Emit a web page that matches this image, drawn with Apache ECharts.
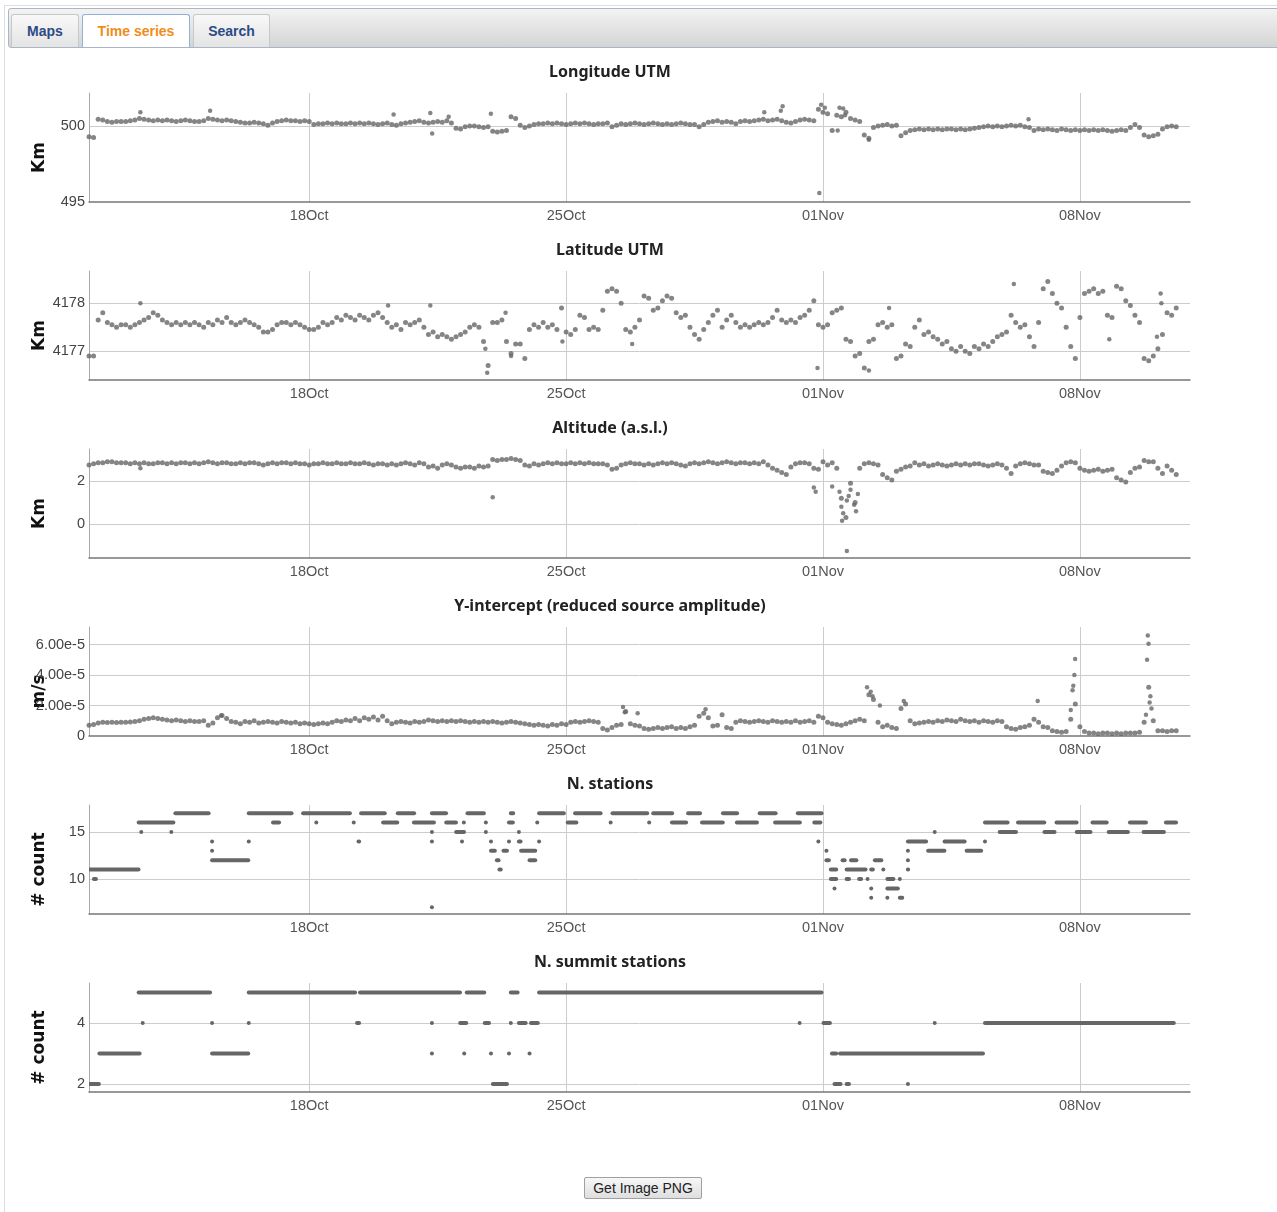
<!DOCTYPE html>
<html>
<head>
<meta charset="utf-8">
<title>Time series</title>
<script src="https://cdn.jsdelivr.net/npm/echarts@6/dist/echarts.min.js"></script>
<style>
  body { margin: 0; background: #fff; font-family: "Liberation Sans", Arial, sans-serif; }
  .frame { position: absolute; left: 4px; top: 5px; width: 1290px; height: 1230px; border-left: 1px solid #ddd; border-top: 1px solid #ddd; }
  .tabbar { position: absolute; left: 8px; top: 8px; width: 1280px; height: 38px; border: 1px solid #aab6c6; border-radius: 3px;
            background: linear-gradient(#f3f3f3, #d4d4d4); }
  .tab { position: absolute; top: 5px; height: 32px; line-height: 32px; text-align: center; font-weight: bold; font-size: 14px;
         color: #2b4a86; border: 1px solid #c8c8c8; border-bottom: none; border-radius: 3px 3px 0 0;
         background: linear-gradient(#f8f8f8, #e4e4e4); }
  .tab.active { background: #fff; color: #f08c1a; border: 1px solid #8fb2dc; border-bottom: none; }
  #chart { position: absolute; left: 0; top: 50px; width: 1277px; height: 1110px; }
  .btn { position: absolute; left: 584px; top: 1177px; width: 118px; height: 22px; box-sizing: border-box; border: 1px solid #a0a0a0;
         border-radius: 2px; background: linear-gradient(#f7f7f7, #dedede); font-size: 14px; color: #222; text-align: center; line-height: 20px; }
</style>
</head>
<body>
<div class="frame"></div>
<div class="tabbar">
  <div class="tab" style="left:2px;width:66px;">Maps</div>
  <div class="tab active" style="left:73px;width:106px;">Time series</div>
  <div class="tab" style="left:184px;width:75px;">Search</div>
</div>
<div id="chart"></div>
<div class="btn">Get Image PNG</div>
<script>
// time: samples every 3 h starting 12 Oct 00:00; x axis in days counted from 4 Oct
const axisOrigin = 8
const sampleHours = 3
const xTickDays = [14, 21, 28, 35]
const xTickText = ['18Oct', '25Oct', '01Nov', '08Nov']

const titles = ['Longitude UTM', 'Latitude UTM', 'Altitude (a.s.l.)', 'Y-intercept (reduced source amplitude)', 'N. stations', 'N. summit stations']
const units = ['Km', 'Km', 'Km', 'm/s', '# count', '# count']

// Longitude UTM (Km), one row per day
const lonVals = [
  499.3, 499.25, 500.45, 500.4, 500.3, 500.25, 500.3, 500.3,
  500.3, 500.35, 500.4, 500.5, 500.45, 500.4, 500.35, 500.4,
  500.35, 500.4, 500.35, 500.3, 500.35, 500.4, 500.35, 500.3,
  500.3, 500.35, 500.5, 500.45, 500.4, 500.35, 500.4, 500.35,
  500.3, 500.25, 500.2, 500.2, 500.25, 500.2, 500.15, 500.05,
  500.2, 500.3, 500.35, 500.4, 500.35, 500.35, 500.3, 500.35,
  500.3, 500.1, 500.15, 500.15, 500.2, 500.15, 500.2, 500.15,
  500.15, 500.2, 500.15, 500.2, 500.15, 500.2, 500.15, 500.1,
  500.15, 500.2, 500.1, 500.05, 500.15, 500.2, 500.25, 500.3,
  500.35, 500.25, 500.2, 500.25, 500.3, 500.25, 500.35, 500.2,
  499.85, 499.8, 499.95, 500.0, 500.0, 499.95, 499.9, 499.95,
  499.65, 499.6, 499.65, 499.7, 500.6, 500.5, 500.05, 499.9,
  500.0, 500.1, 500.15, 500.15, 500.2, 500.15, 500.2, 500.15,
  500.1, 500.15, 500.2, 500.15, 500.2, 500.15, 500.1, 500.15,
  500.15, 500.2, 499.95, 500.05, 500.15, 500.1, 500.15, 500.2,
  500.15, 500.1, 500.15, 500.2, 500.15, 500.1, 500.15, 500.1,
  500.15, 500.2, 500.15, 500.1, 500.1, 499.95, 500.1, 500.25,
  500.3, 500.35, 500.25, 500.3, 500.25, 500.15, 500.3, 500.35,
  500.3, 500.35, 500.4, 500.45, 500.35, 500.4, 500.45, 500.35,
  500.25, 500.2, 500.3, 500.4, 500.45, 500.4, 500.35, 501.1,
  500.9, 500.8, 499.7, 500.7, 500.6, 500.9, 500.5, 500.4,
  500.3, 499.4, 499.2, 499.9, 500.0, 500.05, 500.1, 500.0,
  500.05, 499.35, 499.55, 499.7, 499.75, 499.8, 499.75, 499.8,
  499.75, 499.8, 499.75, 499.8, 499.8, 499.75, 499.8, 499.75,
  499.8, 499.85, 499.9, 499.95, 500.0, 499.95, 500.0, 499.95,
  500.0, 500.05, 500.0, 500.05, 499.95, 499.9, 499.7, 499.8,
  499.75, 499.8, 499.75, 499.7, 499.8, 499.75, 499.7, 499.75,
  499.7, 499.75, 499.7, 499.75, 499.7, 499.75, 499.7, 499.65,
  499.7, 499.75, 499.7, 499.9, 500.1, 499.9, 499.4, 499.3,
  499.35, 499.45, 499.8, 499.95, 500.0, 499.95
]
// [day from 12 Oct, value]
const lonExtra = [[1.4, 500.9], [3.3, 501.0], [8.3, 500.75], [9.3, 500.85], [9.35, 499.5], [9.8, 500.6], [10.95, 500.8],
  [18.4, 500.9], [18.85, 501.0], [18.9, 501.3], [19.9, 495.6], [19.95, 501.4], [20.05, 501.2], [20.4, 499.7],
  [20.45, 501.2], [20.55, 501.15], [20.6, 500.7], [21.25, 499.1], [25.6, 500.45]]

// Latitude UTM (Km)
const latVals = [
  4176.9, 4176.9, 4177.65, 4177.8, 4177.6, 4177.55, 4177.5, 4177.55,
  4177.55, 4177.5, 4177.55, 4177.6, 4177.65, 4177.7, 4177.8, 4177.75,
  4177.65, 4177.6, 4177.55, 4177.6, 4177.55, 4177.6, 4177.55, 4177.6,
  4177.55, 4177.5, 4177.6, 4177.55, 4177.65, 4177.6, 4177.7, 4177.6,
  4177.55, 4177.6, 4177.65, 4177.6, 4177.55, 4177.5, 4177.4, 4177.4,
  4177.45, 4177.55, 4177.6, 4177.6, 4177.55, 4177.6, 4177.55, 4177.5,
  4177.45, 4177.45, 4177.5, 4177.6, 4177.55, 4177.6, 4177.7, 4177.65,
  4177.75, 4177.7, 4177.65, 4177.75, 4177.7, 4177.65, 4177.75, 4177.8,
  4177.7, 4177.6, 4177.5, 4177.55, 4177.45, 4177.6, 4177.55, 4177.6,
  4177.65, 4177.5, 4177.35, 4177.4, 4177.3, 4177.35, 4177.3, 4177.25,
  4177.3, 4177.35, 4177.4, 4177.5, 4177.55, 4177.5, 4177.2, 4176.7,
  4177.6, 4177.6, 4177.65, 4177.2, 4176.95, 4177.15, 4177.15, 4176.85,
  4177.45, 4177.55, 4177.5, 4177.6, 4177.5, 4177.55, 4177.45, 4177.9,
  4177.4, 4177.35, 4177.45, 4177.75, 4177.7, 4177.45, 4177.5, 4177.45,
  4177.85, 4178.25, 4178.3, 4178.25, 4178.0, 4177.45, 4177.4, 4177.5,
  4177.65, 4178.15, 4178.1, 4177.85, 4177.9, 4178.05, 4178.15, 4178.1,
  4177.8, 4177.7, 4177.75, 4177.5, 4177.35, 4177.25, 4177.45, 4177.6,
  4177.75, 4177.85, 4177.5, 4177.65, 4177.75, 4177.6, 4177.5, 4177.55,
  4177.5, 4177.55, 4177.6, 4177.55, 4177.6, 4177.7, 4177.85, 4177.65,
  4177.6, 4177.65, 4177.6, 4177.7, 4177.75, 4177.85, 4178.05, 4177.55,
  4177.5, 4177.55, 4177.8, 4177.85, 4177.9, 4177.25, 4177.2, 4176.9,
  4176.95, 4176.65, 4177.2, 4177.25, 4177.55, 4177.6, 4177.5, 4177.55,
  4176.85, 4176.9, 4177.15, 4177.1, 4177.5, 4177.65, 4177.35, 4177.4,
  4177.3, 4177.25, 4177.15, 4177.2, 4177.05, 4177.0, 4177.1, 4177.0,
  4176.95, 4177.1, 4177.05, 4177.15, 4177.1, 4177.2, 4177.3, 4177.35,
  4177.4, 4177.75, 4177.6, 4177.5, 4177.55, 4177.3, 4177.1, 4177.6,
  4178.3, 4178.45, 4178.2, 4178.0, 4177.9, 4177.5, 4177.1, 4176.85,
  4177.7, 4178.2, 4178.25, 4178.3, 4178.2, 4178.25, 4177.75, 4177.7,
  4178.35, 4178.3, 4178.05, 4177.95, 4177.75, 4177.6, 4176.85, 4176.8,
  4176.9, 4177.05, 4177.35, 4177.8, 4177.75, 4177.9
]
const latExtra = [[1.4, 4178.0], [8.15, 4177.95], [9.3, 4177.95], [10.8, 4177.05], [10.85, 4176.55], [11.35, 4177.8],
  [11.5, 4176.9], [12.9, 4177.2], [14.8, 4177.15], [19.85, 4176.65], [21.25, 4176.6], [21.8, 4177.9], [25.2, 4178.4],
  [27.8, 4177.25], [29.1, 4177.3], [29.2, 4178.2], [29.22, 4178.0]]

// Altitude a.s.l. (Km)
const altVals = [
  2.75, 2.8, 2.85, 2.85, 2.9, 2.9, 2.85, 2.85,
  2.85, 2.8, 2.85, 2.8, 2.85, 2.8, 2.8, 2.85,
  2.85, 2.8, 2.85, 2.8, 2.85, 2.85, 2.8, 2.85,
  2.8, 2.85, 2.9, 2.85, 2.8, 2.85, 2.85, 2.8,
  2.8, 2.85, 2.8, 2.85, 2.85, 2.8, 2.75, 2.8,
  2.85, 2.8, 2.85, 2.85, 2.8, 2.85, 2.8, 2.8,
  2.75, 2.8, 2.8, 2.85, 2.8, 2.8, 2.85, 2.8,
  2.8, 2.85, 2.8, 2.8, 2.85, 2.8, 2.75, 2.8,
  2.8, 2.75, 2.8, 2.75, 2.8, 2.85, 2.8, 2.75,
  2.85, 2.8, 2.65, 2.7, 2.6, 2.75, 2.8, 2.75,
  2.65, 2.6, 2.65, 2.65, 2.6, 2.7, 2.65, 2.7,
  3.0, 2.95, 3.0, 3.0, 3.05, 3.0, 2.95, 2.75,
  2.7, 2.8, 2.75, 2.8, 2.85, 2.8, 2.85, 2.8,
  2.8, 2.85, 2.8, 2.85, 2.8, 2.85, 2.8, 2.8,
  2.8, 2.75, 2.55, 2.6, 2.75, 2.8, 2.85, 2.8,
  2.8, 2.75, 2.8, 2.75, 2.8, 2.85, 2.8, 2.85,
  2.8, 2.75, 2.7, 2.8, 2.85, 2.8, 2.85, 2.9,
  2.85, 2.8, 2.85, 2.9, 2.85, 2.8, 2.85, 2.85,
  2.8, 2.85, 2.8, 2.9, 2.75, 2.6, 2.5, 2.4,
  2.3, 2.65, 2.8, 2.85, 2.85, 2.8, 2.6, 2.55,
  2.9, 2.75, 2.85, 2.6, 1.2, 0.3, 1.9, 1.0,
  2.6, 2.8, 2.85, 2.8, 2.75, 2.3, 2.15, 2.05,
  2.45, 2.55, 2.65, 2.7, 2.85, 2.75, 2.8, 2.7,
  2.75, 2.8, 2.75, 2.7, 2.75, 2.8, 2.75, 2.8,
  2.75, 2.8, 2.8, 2.75, 2.7, 2.75, 2.8, 2.75,
  2.6, 2.35, 2.7, 2.8, 2.85, 2.8, 2.75, 2.75,
  2.45, 2.4, 2.35, 2.5, 2.7, 2.85, 2.9, 2.85,
  2.6, 2.5, 2.45, 2.5, 2.55, 2.45, 2.5, 2.55,
  2.15, 2.05, 1.95, 2.4, 2.6, 2.65, 2.95, 2.9,
  2.9, 2.6, 2.35, 2.7, 2.5, 2.3
]
const altExtra = [[1.4, 2.6], [11.0, 1.25], [19.75, 1.7], [19.8, 1.5], [20.25, 1.75], [20.45, 1.5], [20.5, 0.8],
  [20.52, 0.15], [20.55, 0.5], [20.65, -1.25], [20.65, 1.1], [20.7, 1.3], [20.75, 1.6], [20.85, 0.9], [20.9, 0.6], [20.95, 1.4]]

// Y-intercept, in units of 1e-5 m/s
const ampVals = [
  0.7, 0.75, 0.85, 0.9, 0.88, 0.9, 0.88, 0.9,
  0.9, 0.92, 0.95, 1.0, 1.1, 1.15, 1.2, 1.15,
  1.1, 1.05, 1.0, 1.05, 1.0, 0.95, 1.0, 0.95,
  0.95, 1.0, 0.7, 0.85, 1.2, 1.35, 1.15, 0.95,
  0.9, 0.8, 0.95, 0.9, 1.0, 0.85, 0.9, 0.95,
  0.9, 0.85, 0.95, 0.9, 0.85, 0.9, 0.8, 0.85,
  0.8, 0.75, 0.8, 0.85, 0.8, 0.9, 1.0, 0.95,
  1.05, 1.0, 1.15, 1.0, 1.2, 1.1, 1.25, 1.05,
  1.3, 1.0, 0.8, 0.9, 0.95, 0.9, 0.85, 0.95,
  0.9, 0.95, 1.05, 1.0, 0.95, 1.0, 0.95, 1.0,
  0.95, 1.0, 0.95, 0.9, 0.95, 0.9, 0.95, 0.9,
  0.95, 0.9, 0.85, 0.9, 0.95, 0.9, 0.85, 0.8,
  0.75, 0.7, 0.75, 0.7, 0.65, 0.75, 0.7, 0.8,
  0.75, 0.9, 0.95, 0.9, 0.95, 1.0, 0.95, 0.9,
  0.5, 0.4, 0.55, 0.7, 0.75, 1.6, 0.8, 0.7,
  0.65, 0.5, 0.45, 0.5, 0.55, 0.5, 0.55, 0.6,
  0.5, 0.55, 0.5, 0.6, 0.7, 1.3, 1.5, 1.2,
  0.65, 0.7, 1.4, 0.55, 0.5, 0.9, 1.0, 0.95,
  0.9, 0.95, 1.0, 0.95, 0.9, 1.0, 0.95, 0.9,
  0.95, 0.9, 1.0, 0.9, 0.95, 1.0, 0.9, 1.3,
  1.2, 0.9, 0.8, 0.75, 0.7, 0.8, 0.9, 1.0,
  1.1, 1.0, 2.7, 2.4, 0.9, 0.6, 0.7, 0.55,
  0.5, 1.8, 2.1, 1.0, 0.8, 0.85, 0.9, 0.95,
  0.9, 1.0, 0.95, 1.05, 1.0, 0.95, 1.1, 1.0,
  0.95, 1.0, 0.9, 1.0, 0.95, 0.9, 1.0, 0.95,
  0.6, 0.5, 0.45, 0.55, 0.6, 0.7, 1.1, 0.9,
  0.6, 0.55, 0.35, 0.3, 0.25, 0.3, 1.1, 2.1,
  0.6, 0.3, 0.2, 0.2, 0.15, 0.2, 0.2, 0.15,
  0.2, 0.15, 0.2, 0.2, 0.2, 0.25, 0.9, 3.2,
  1.0, 0.35, 0.35, 0.3, 0.35, 0.35
]
const ampExtra = [[3.6, 1.35], [14.55, 1.9], [14.6, 1.55], [14.95, 1.5], [16.8, 1.75], [21.2, 3.2], [21.3, 2.9],
  [21.35, 2.6], [21.55, 2.0], [22.2, 2.3], [25.85, 2.3], [26.75, 1.7], [26.8, 3.0], [26.82, 3.3], [26.85, 4.0],
  [26.87, 5.05], [28.8, 1.4], [28.83, 5.0], [28.85, 6.6], [28.87, 6.05], [28.9, 2.2], [28.92, 2.6], [28.95, 1.8]]

// station counts as runs: [first day, last day, count], days from 12 Oct
const stationRuns = [
  [0, 1.39, 11], [0.12, 0.23, 10], [1.34, 2.34, 16], [1.41, 1.41, 15], [2.23, 2.23, 15], [2.34, 3.3, 17],
  [3.34, 3.34, 14], [3.34, 3.34, 13], [3.34, 4.38, 12], [4.34, 4.34, 14], [4.34, 5.56, 17], [5.0, 5.22, 16],
  [5.82, 7.15, 17], [6.18, 6.18, 16], [7.2, 7.2, 16], [7.33, 7.4, 14], [7.4, 8.1, 17], [8.0, 8.44, 16],
  [8.4, 8.9, 17], [8.84, 9.44, 16], [9.33, 9.33, 15], [9.33, 9.33, 14], [9.33, 9.33, 7], [9.33, 9.77, 17],
  [9.72, 10.04, 16], [9.99, 10.26, 15], [10.15, 10.15, 14], [10.2, 10.2, 16], [10.3, 10.8, 17], [10.8, 10.8, 16],
  [10.8, 10.8, 15], [10.94, 10.94, 14], [10.94, 11.1, 13], [11.1, 11.2, 12], [11.17, 11.26, 11], [11.28, 11.43, 13],
  [11.43, 11.43, 14], [11.43, 11.59, 16], [11.48, 11.6, 17], [11.7, 11.7, 15], [11.7, 11.8, 14], [11.76, 12.2, 13],
  [11.99, 12.2, 12], [12.2, 12.2, 16], [12.25, 12.25, 14], [12.25, 12.98, 17], [13.03, 13.32, 16], [13.23, 13.98, 17],
  [14.2, 14.2, 16], [14.25, 15.25, 17], [15.25, 15.25, 16], [15.36, 15.93, 17], [15.87, 16.31, 16], [16.31, 16.69, 17],
  [16.69, 17.31, 16], [17.26, 17.7, 17], [17.64, 18.24, 16], [18.26, 18.75, 17], [18.68, 19.41, 16], [19.3, 20.0, 17],
  [19.75, 19.97, 16], [19.86, 19.86, 14],
  [20.08, 20.08, 13], [20.08, 20.2, 12], [20.2, 20.4, 11], [20.2, 20.4, 10], [20.3, 20.3, 9], [20.52, 20.63, 12],
  [20.63, 21.2, 11], [20.63, 20.75, 10], [20.75, 20.95, 12], [20.97, 21.08, 10], [21.2, 21.2, 10], [21.3, 21.4, 11],
  [21.3, 21.3, 9], [21.3, 21.3, 8], [21.4, 21.63, 12], [21.63, 21.63, 11], [21.74, 21.96, 10], [21.74, 22.08, 9],
  [21.74, 21.74, 8], [22.08, 22.08, 10], [22.08, 22.2, 8], [22.3, 22.3, 12], [22.3, 22.36, 11], [22.3, 22.3, 13],
  [22.3, 22.85, 14], [22.85, 23.35, 13], [23.03, 23.03, 15], [23.3, 23.9, 14], [23.9, 24.35, 13], [24.4, 24.4, 14],
  [24.4, 25.07, 16], [24.8, 25.3, 15], [25.3, 26.07, 16], [26.02, 26.35, 15], [26.35, 26.95, 16], [26.9, 27.33, 15],
  [27.33, 27.77, 16], [27.77, 28.35, 15], [28.35, 28.84, 16], [28.72, 29.33, 15], [29.33, 29.66, 16]
]
const summitRuns = [
  [0, 0.31, 2], [0.27, 1.42, 3], [1.34, 3.34, 5], [1.45, 1.45, 4], [3.34, 3.34, 4], [3.34, 4.38, 3],
  [4.34, 4.34, 4], [4.34, 7.29, 5], [7.29, 7.4, 4], [7.37, 10.15, 5], [9.33, 9.33, 4], [9.33, 9.33, 3],
  [10.1, 10.32, 4], [10.21, 10.21, 3], [10.28, 10.81, 5], [10.77, 10.94, 4], [10.94, 10.94, 3], [10.99, 11.43, 2],
  [11.43, 11.43, 3], [11.48, 11.48, 4], [11.48, 11.72, 5], [11.7, 11.94, 4], [11.99, 11.99, 3], [12.03, 12.27, 4],
  [12.25, 20.0, 5], [19.35, 19.35, 4], [20.0, 20.23, 4], [20.23, 20.4, 3], [20.3, 20.52, 2], [20.45, 24.4, 3],
  [20.63, 20.75, 2], [22.3, 22.3, 2], [23.03, 23.03, 4], [24.4, 29.6, 4]
]

// axis ranges [min, max, step] per panel
const yRanges = [[495, 502.17, 5], [4176.4, 4178.67, 1], [-1.58, 3.49, 2], [0, 7.15, 2], [6.28, 17.87, 5], [1.74, 5.31, 2]]
const yMinShown = [true, false, false, true, false, false]

const dotColor = '#666'

function sampled(vals) {
  return vals.map((v, i) => [axisOrigin + i * sampleHours / 24, v])
}
function shifted(pts) {
  return pts.map(p => [axisOrigin + p[0], p[1]])
}
function runs(list) {
  return list.map(r => [axisOrigin + r[0], axisOrigin + r[1], r[2]])
}

const chart = echarts.init(document.getElementById('chart'))
const top0 = 43, pitch = 178, plotH = 109

const grid = [], xAxis = [], yAxis = [], graphic = []
for (let i = 0; i < 6; i++) {
  grid.push({ left: 89, width: 1101, top: top0 + pitch * i, height: plotH })
  graphic.push({
    type: 'text', x: 610, y: top0 + pitch * i - 21,
    style: { text: titles[i], font: 'bold 16px "Noto Sans"', fill: '#222', align: 'center', verticalAlign: 'middle' }
  })
  xAxis.push({
    gridIndex: i, type: 'value', min: axisOrigin, max: axisOrigin + 30, minInterval: 7, maxInterval: 7,
    axisLine: { onZero: false, lineStyle: { color: '#777', width: 1.5 } },
    axisTick: { show: false },
    axisLabel: {
      color: '#555', fontSize: 14.5, fontFamily: 'Liberation Sans', margin: 6, showMinLabel: false, showMaxLabel: false,
      formatter: v => { const k = xTickDays.indexOf(Math.round(v)); return k < 0 ? '' : xTickText[k] }
    },
    splitLine: { show: true, showMinLine: false, showMaxLine: false, lineStyle: { color: '#ccc' } }
  })
  const r = yRanges[i]
  yAxis.push({
    gridIndex: i, type: 'value', min: r[0], max: r[1], minInterval: r[2], maxInterval: r[2],
    name: units[i], nameLocation: 'middle', nameRotate: 90, nameGap: 41, nameMoveOverlap: false,
    nameTextStyle: { fontFamily: 'DejaVu Sans', fontWeight: 'bold', fontSize: 17, color: '#111', padding: [0, 20, 0, 0] },
    axisLine: { show: true, onZero: false, lineStyle: { color: '#aaa' } },
    axisTick: { show: false },
    axisLabel: {
      color: '#444', fontSize: 14.5, fontFamily: 'Liberation Sans', margin: 4,
      showMinLabel: yMinShown[i], showMaxLabel: false,
      formatter: i === 3 ? (v => v === 0 ? '0' : (v * 1e-5).toExponential(2)) : (v => String(Math.round(v)))
    },
    splitLine: { show: true, showMinLine: false, showMaxLine: false, lineStyle: { color: '#ccc' } }
  })
}

function scatter(i, data, size) {
  return { type: 'scatter', xAxisIndex: i, yAxisIndex: i, data: data, symbolSize: size, itemStyle: { color: dotColor }, silent: true }
}
function runSeries(i, data) {
  return {
    type: 'custom', xAxisIndex: i, yAxisIndex: i, data: data, silent: true, clip: true,
    encode: { x: [0, 1], y: 2 },
    renderItem: (params, api) => {
      const a = api.coord([api.value(0), api.value(2)])
      const b = api.coord([api.value(1), api.value(2)])
      const w = Math.max(b[0] - a[0], 2) + 2
      return { type: 'rect', shape: { x: a[0] - 1.5, y: a[1] - 2, width: w, height: 4, r: 2 }, style: { fill: dotColor } }
    }
  }
}

chart.setOption({
  animation: false,
  grid, xAxis, yAxis, graphic,
  series: [
    scatter(0, sampled(lonVals), 5), scatter(0, shifted(lonExtra), 4.5),
    scatter(1, sampled(latVals), 5), scatter(1, shifted(latExtra), 4.5),
    scatter(2, sampled(altVals), 5), scatter(2, shifted(altExtra), 4.5),
    scatter(3, sampled(ampVals), 5), scatter(3, shifted(ampExtra), 4.5),
    runSeries(4, runs(stationRuns)),
    runSeries(5, runs(summitRuns))
  ]
})
</script>
</body>
</html>
